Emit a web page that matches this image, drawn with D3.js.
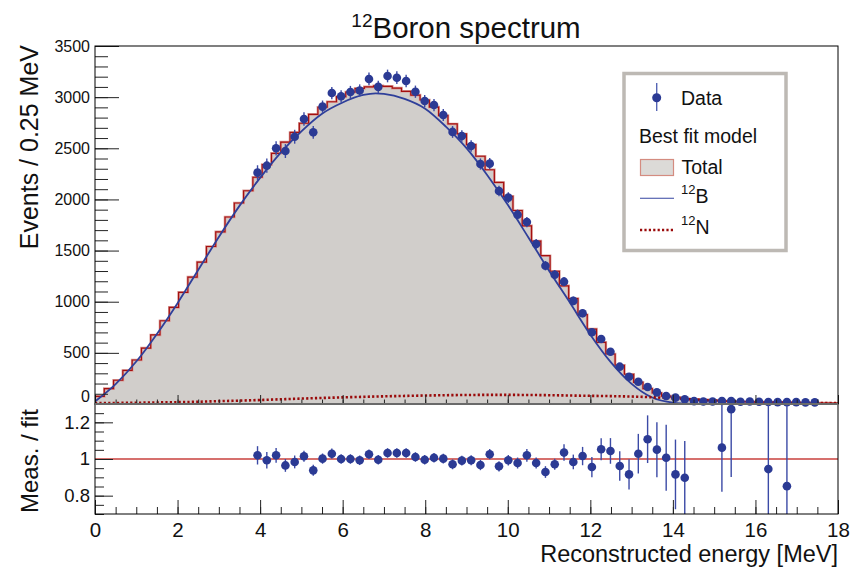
<!DOCTYPE html>
<html><head><meta charset="utf-8">
<script src="https://cdn.jsdelivr.net/npm/d3@7"></script>
<style>
body{margin:0;background:#fff}
svg{display:block}
text{font-family:"Liberation Sans",Arial,Helvetica,sans-serif;fill:#111}
</style>
</head><body>
<svg id="c" width="854" height="567"></svg>
<script>
// ---------------- data ----------------
const energyRange = [0, 18];
// Total best-fit model, 80 bins over 0-18 MeV
const totalCounts = [75,150,232,328,430,547,675,814,945,1092,
  1240,1388,1540,1683,1828,1965,2085,2217,2340,2451,
  2560,2655,2745,2832,2901,2955,3005,3050,3085,3100,
  3110,3105,3088,3057,3020,2972,2903,2820,2738,2640,
  2536,2422,2290,2166,2030,1892,1742,1593,1450,1298,
  1155,1030,873,733,603,489,379,291,212,150,
  108,77,66,52,45,40,35,30,26,23,
  21,19,17,15,14,12,11,10,9,8];
const dataFirstBin = 17;
const dataCounts = [2262,2330,2500,2473,2613,2786,2656,2907,3040,3008,
  3050,3065,3178,3100,3207,3190,3158,3053,2962,2923,
  2825,2660,2620,2522,2346,2350,2082,2018,1851,1779,
  1564,1352,1264,1196,1008,887,701,635,511,365,
  267,218,166,114,78,62,46,28,24,24,
  30,30,22,24,22,20,18,18,18,16,16];
const dataErrors = [72,70,70,68,68,66,62,60,60,60,
  60,60,62,60,62,62,62,60,60,60,
  58,58,56,56,55,55,52,52,50,50,
  48,46,45,45,42,40,38,36,34,30,
  26,24,20,18,14,12,10,8,8,8,
  8,8,7,7,7,6,6,6,6,5,5];
// Meas./fit ratio, bins 17..74 (null = not shown)
const ratioValues = [1.020,0.993,1.020,0.965,0.984,1.015,0.938,1.002,1.029,1.000,
  1.000,0.993,1.026,0.996,1.033,1.033,1.033,1.011,0.996,1.007,
  1.002,0.971,0.991,0.993,0.967,1.026,0.960,0.993,0.978,1.020,
  0.978,0.929,0.971,1.035,0.984,1.016,0.956,1.053,1.044,0.962,
  0.916,1.029,1.108,1.051,1.007,0.916,0.898,null,null,null,
  1.062,1.272,null,null,null,0.945,null,0.852];
const ratioErrors = [0.050,0.045,0.040,0.035,0.035,0.030,0.030,0.028,0.028,0.026,
  0.026,0.026,0.026,0.026,0.026,0.026,0.026,0.026,0.026,0.026,
  0.027,0.027,0.027,0.027,0.028,0.028,0.028,0.029,0.030,0.035,
  0.030,0.032,0.030,0.045,0.040,0.050,0.055,0.060,0.070,0.080,
  0.082,0.108,0.130,0.150,0.180,0.190,0.200,null,null,null,
  0.240,0.370,null,null,null,0.600,null,0.600];
// 12B component curve
const b12Energy = [0,0.5,1,1.5,2,2.5,3,3.5,4,4.5,5,5.5,6,6.5,6.8,7,7.5,8,8.5,9,9.5,10,10.5,11,11.5,12,12.5,13,13.5,14,14.5];
const b12Counts = [25,195,415,685,986,1310,1633,1937,2211,2458,2666,2838,2948,3021,3037,3032,2983,2887,2712,2501,2239,1947,1628,1303,994,678,407,197,63,13,0];
// 12N component curve
const n12Energy = [0,0.5,1,1.5,2,2.5,3,3.5,4,4.5,5,5.5,6,6.5,7,7.5,8,8.5,9,9.5,10,10.5,11,11.5,12,12.5,13,13.5,14,14.5,15,15.5,16,16.5,17,17.5,18];
const n12Counts = [8,10,12,15,18,22,28,33,39,46,53,59,65,70,75,79,83,86,88,89,89,88,86,83,80,77,73,66,56,44,33,25,19,15,12,10,8];
// ticks
const xMajorTicks = [0,2,4,6,8,10,12,14,16,18];
const yMainTicks = [0,500,1000,1500,2000,2500,3000,3500];
const yRatioTicks = [0.8,1,1.2];

// ---------------- layout ----------------
const L=95, R=838, T=46, MB=404, RB=514;
const svg = d3.select("#c");
const x = d3.scaleLinear().domain(energyRange).range([L,R]);
const y = d3.scaleLinear().domain([0,3500]).range([MB,T]);
const yr = d3.scaleLinear().domain([0.7,1.3]).range([RB,MB]);
const nb = totalCounts.length;
const bw = (energyRange[1]-energyRange[0])/nb;
const edges = d3.range(nb+1).map(i=>energyRange[0]+i*bw);

const defs = svg.append("defs");
defs.append("clipPath").attr("id","cm").append("rect").attr("x",L).attr("y",T).attr("width",R-L).attr("height",MB-T);
defs.append("clipPath").attr("id","cr").append("rect").attr("x",L).attr("y",MB).attr("width",R-L).attr("height",RB-MB);

// ---------------- main panel ----------------
const gm = svg.append("g").attr("clip-path","url(#cm)");
const histPts = totalCounts.map((v,i)=>[edges[i],v]);
histPts.push([edges[nb], totalCounts[nb-1]]);
gm.append("path").datum(histPts)
  .attr("d", d3.area().x(d=>x(d[0])).y0(y(0)).y1(d=>y(d[1])).curve(d3.curveStepAfter))
  .attr("fill","#d1cecb");
const outline = [[edges[0],0], ...histPts, [edges[nb],0]];
const stepLine = d3.line().x(d=>x(d[0])).y(d=>y(d[1])).curve(d3.curveStepAfter);
gm.append("path").datum(outline).attr("d",stepLine).attr("fill","none")
  .attr("stroke","#d99a96").attr("stroke-width",2.6);
gm.append("path").datum(outline).attr("d",stepLine).attr("fill","none")
  .attr("stroke","#a50f0f").attr("stroke-width",1.2);

// 12B curve
gm.append("path").datum(b12Energy.map((e,i)=>[e,b12Counts[i]]))
  .attr("d", d3.line().x(d=>x(d[0])).y(d=>y(d[1])).curve(d3.curveMonotoneX))
  .attr("fill","none").attr("stroke","#2f3f9a").attr("stroke-width",1.8);
// 12N curve
gm.append("path").datum(n12Energy.map((e,i)=>[e,n12Counts[i]]))
  .attr("d", d3.line().x(d=>x(d[0])).y(d=>y(d[1])).curve(d3.curveMonotoneX))
  .attr("fill","none").attr("stroke","#9a0a0a").attr("stroke-width",2.6)
  .attr("stroke-dasharray","2.2,2.2");

// data points
const dataPts = dataCounts.map((v,i)=>({e:edges[dataFirstBin+i]+bw/2, v, err:dataErrors[i]}));
const gd = svg.append("g");
gd.selectAll("line.eb").data(dataPts).join("line").attr("class","eb")
  .attr("x1",d=>x(d.e)).attr("x2",d=>x(d.e))
  .attr("y1",d=>y(d.v-d.err)).attr("y2",d=>y(d.v+d.err))
  .attr("stroke","#3b4aa6").attr("stroke-width",1.4);
gd.selectAll("circle").data(dataPts).join("circle")
  .attr("cx",d=>x(d.e)).attr("cy",d=>y(d.v)).attr("r",4.3).attr("fill","#2b3a94");

// ---------------- ratio panel ----------------
svg.append("line").attr("x1",L).attr("x2",R).attr("y1",yr(1)).attr("y2",yr(1))
  .attr("stroke","#c9403c").attr("stroke-width",1.5);
const gr = svg.append("g").attr("clip-path","url(#cr)");
const ratioPts = ratioValues.map((v,i)=>({e:edges[dataFirstBin+i]+bw/2, v, err:ratioErrors[i]})).filter(d=>d.v!==null);
gr.selectAll("line").data(ratioPts).join("line")
  .attr("x1",d=>x(d.e)).attr("x2",d=>x(d.e))
  .attr("y1",d=>yr(d.v-d.err)).attr("y2",d=>yr(d.v+d.err))
  .attr("stroke","#3b4aa6").attr("stroke-width",1.4);
svg.append("g").selectAll("circle").data(ratioPts).join("circle")
  .attr("cx",d=>x(d.e)).attr("cy",d=>yr(d.v)).attr("r",4.3).attr("fill","#2b3a94");

// ---------------- axes ----------------
function styleAxis(g, fs){
  g.select(".domain").remove();
  g.selectAll(".tick line").attr("stroke","#222").attr("stroke-width",1);
  g.selectAll(".tick text").attr("font-size",fs).attr("fill","#111")
   .attr("font-family","Liberation Sans, Arial, sans-serif");
}
// main y
svg.append("g").attr("transform",`translate(${L},0)`)
  .call(d3.axisLeft(y).tickValues(d3.range(0,3501,100)).tickSize(-13).tickFormat(""))
  .call(g=>styleAxis(g,15));
const yax = svg.append("g").attr("transform",`translate(${L},0)`)
  .call(d3.axisLeft(y).tickValues(yMainTicks).tickSize(-24).tickPadding(5).tickFormat(d3.format("d")))
  .call(g=>styleAxis(g,16));
yax.selectAll(".tick").filter(d=>d===0).select("text").attr("y",-8);
// main x (ticks only)
svg.append("g").attr("transform",`translate(0,${MB})`)
  .call(d3.axisBottom(x).tickValues(d3.range(0,18.01,0.5)).tickSize(-4.5).tickFormat(""))
  .call(g=>styleAxis(g,10));
svg.append("g").attr("transform",`translate(0,${MB})`)
  .call(d3.axisBottom(x).tickValues(xMajorTicks).tickSize(-9).tickFormat(""))
  .call(g=>styleAxis(g,10));
// ratio x
svg.append("g").attr("transform",`translate(0,${RB})`)
  .call(d3.axisBottom(x).tickValues(d3.range(0,18.01,0.5)).tickSize(-7).tickFormat(""))
  .call(g=>styleAxis(g,10));
svg.append("g").attr("transform",`translate(0,${RB})`)
  .call(d3.axisBottom(x).tickValues(xMajorTicks).tickSize(-14).tickPadding(8).tickFormat(d3.format("d")))
  .call(g=>styleAxis(g,20.5));
// ratio y
svg.append("g").attr("transform",`translate(${L},0)`)
  .call(d3.axisLeft(yr).tickValues(d3.range(0.7,1.3001,0.05)).tickSize(-9).tickFormat(""))
  .call(g=>styleAxis(g,10));
svg.append("g").attr("transform",`translate(${L},0)`)
  .call(d3.axisLeft(yr).tickValues(yRatioTicks).tickSize(-18).tickPadding(5).tickFormat(d=>d===1?"1":d.toFixed(1)))
  .call(g=>styleAxis(g,18.5));

// frames
svg.append("rect").attr("x",L).attr("y",T).attr("width",R-L).attr("height",MB-T)
  .attr("fill","none").attr("stroke","#000").attr("stroke-width",1);
svg.append("rect").attr("x",L).attr("y",MB).attr("width",R-L).attr("height",RB-MB)
  .attr("fill","none").attr("stroke","#000").attr("stroke-width",1);
svg.append("line").attr("x1",L).attr("x2",R).attr("y1",MB).attr("y2",MB)
  .attr("stroke","#6a6a6a").attr("stroke-width",1.8);

// ---------------- titles ----------------
const title = svg.append("text").attr("x",466).attr("y",38).attr("text-anchor","middle").attr("font-size",29.5);
title.append("tspan").text("12").attr("font-size",19).attr("dy",-11);
title.append("tspan").text("Boron spectrum").attr("dy",11);

svg.append("text").attr("transform","translate(38,45) rotate(-90)").attr("text-anchor","end")
  .attr("font-size",25).text("Events / 0.25 MeV");
svg.append("text").attr("transform","translate(38,409) rotate(-90)").attr("text-anchor","end")
  .attr("font-size",24).text("Meas. / fit");
svg.append("text").attr("x",838).attr("y",562).attr("text-anchor","end")
  .attr("font-size",23.5).text("Reconstructed energy [MeV]");

// ---------------- legend ----------------
const lg = svg.append("g");
lg.append("rect").attr("x",624).attr("y",73.5).attr("width",162).attr("height",177)
  .attr("fill","#fff").attr("stroke","#bdb9b4").attr("stroke-width",3.5);
lg.append("line").attr("x1",656.7).attr("x2",656.7).attr("y1",83).attr("y2",111)
  .attr("stroke","#5565b5").attr("stroke-width",1.4);
lg.append("circle").attr("cx",656.7).attr("cy",97.7).attr("r",4.5).attr("fill","#2b3a94");
const lfs = 19.5;
lg.append("text").attr("x",681).attr("y",97.7).attr("dy","0.36em").attr("font-size",lfs).text("Data");
lg.append("text").attr("x",639).attr("y",136).attr("dy","0.36em").attr("font-size",lfs).text("Best fit model");
lg.append("rect").attr("x",640.5).attr("y",159.5).attr("width",33).attr("height",16)
  .attr("fill","#dcdad7").attr("stroke","#d48c80").attr("stroke-width",1.2);
lg.append("text").attr("x",681.5).attr("y",166.7).attr("dy","0.36em").attr("font-size",lfs).text("Total");
lg.append("line").attr("x1",640).attr("x2",674).attr("y1",198.3).attr("y2",198.3)
  .attr("stroke","#3444a0").attr("stroke-width",1.1);
const tB = lg.append("text").attr("x",681).attr("y",200).attr("dy","0.36em").attr("font-size",lfs);
tB.append("tspan").text("12").attr("font-size",13).attr("dy","-0.5em");
tB.append("tspan").text("B").attr("dy","0.5em").attr("font-size",lfs);
lg.append("line").attr("x1",640).attr("x2",674).attr("y1",230).attr("y2",230)
  .attr("stroke","#9a0a0a").attr("stroke-width",2.4).attr("stroke-dasharray","2.2,2.2");
const tN = lg.append("text").attr("x",681).attr("y",231).attr("dy","0.36em").attr("font-size",lfs);
tN.append("tspan").text("12").attr("font-size",13).attr("dy","-0.5em");
tN.append("tspan").text("N").attr("dy","0.5em").attr("font-size",lfs);
</script>
</body></html>
